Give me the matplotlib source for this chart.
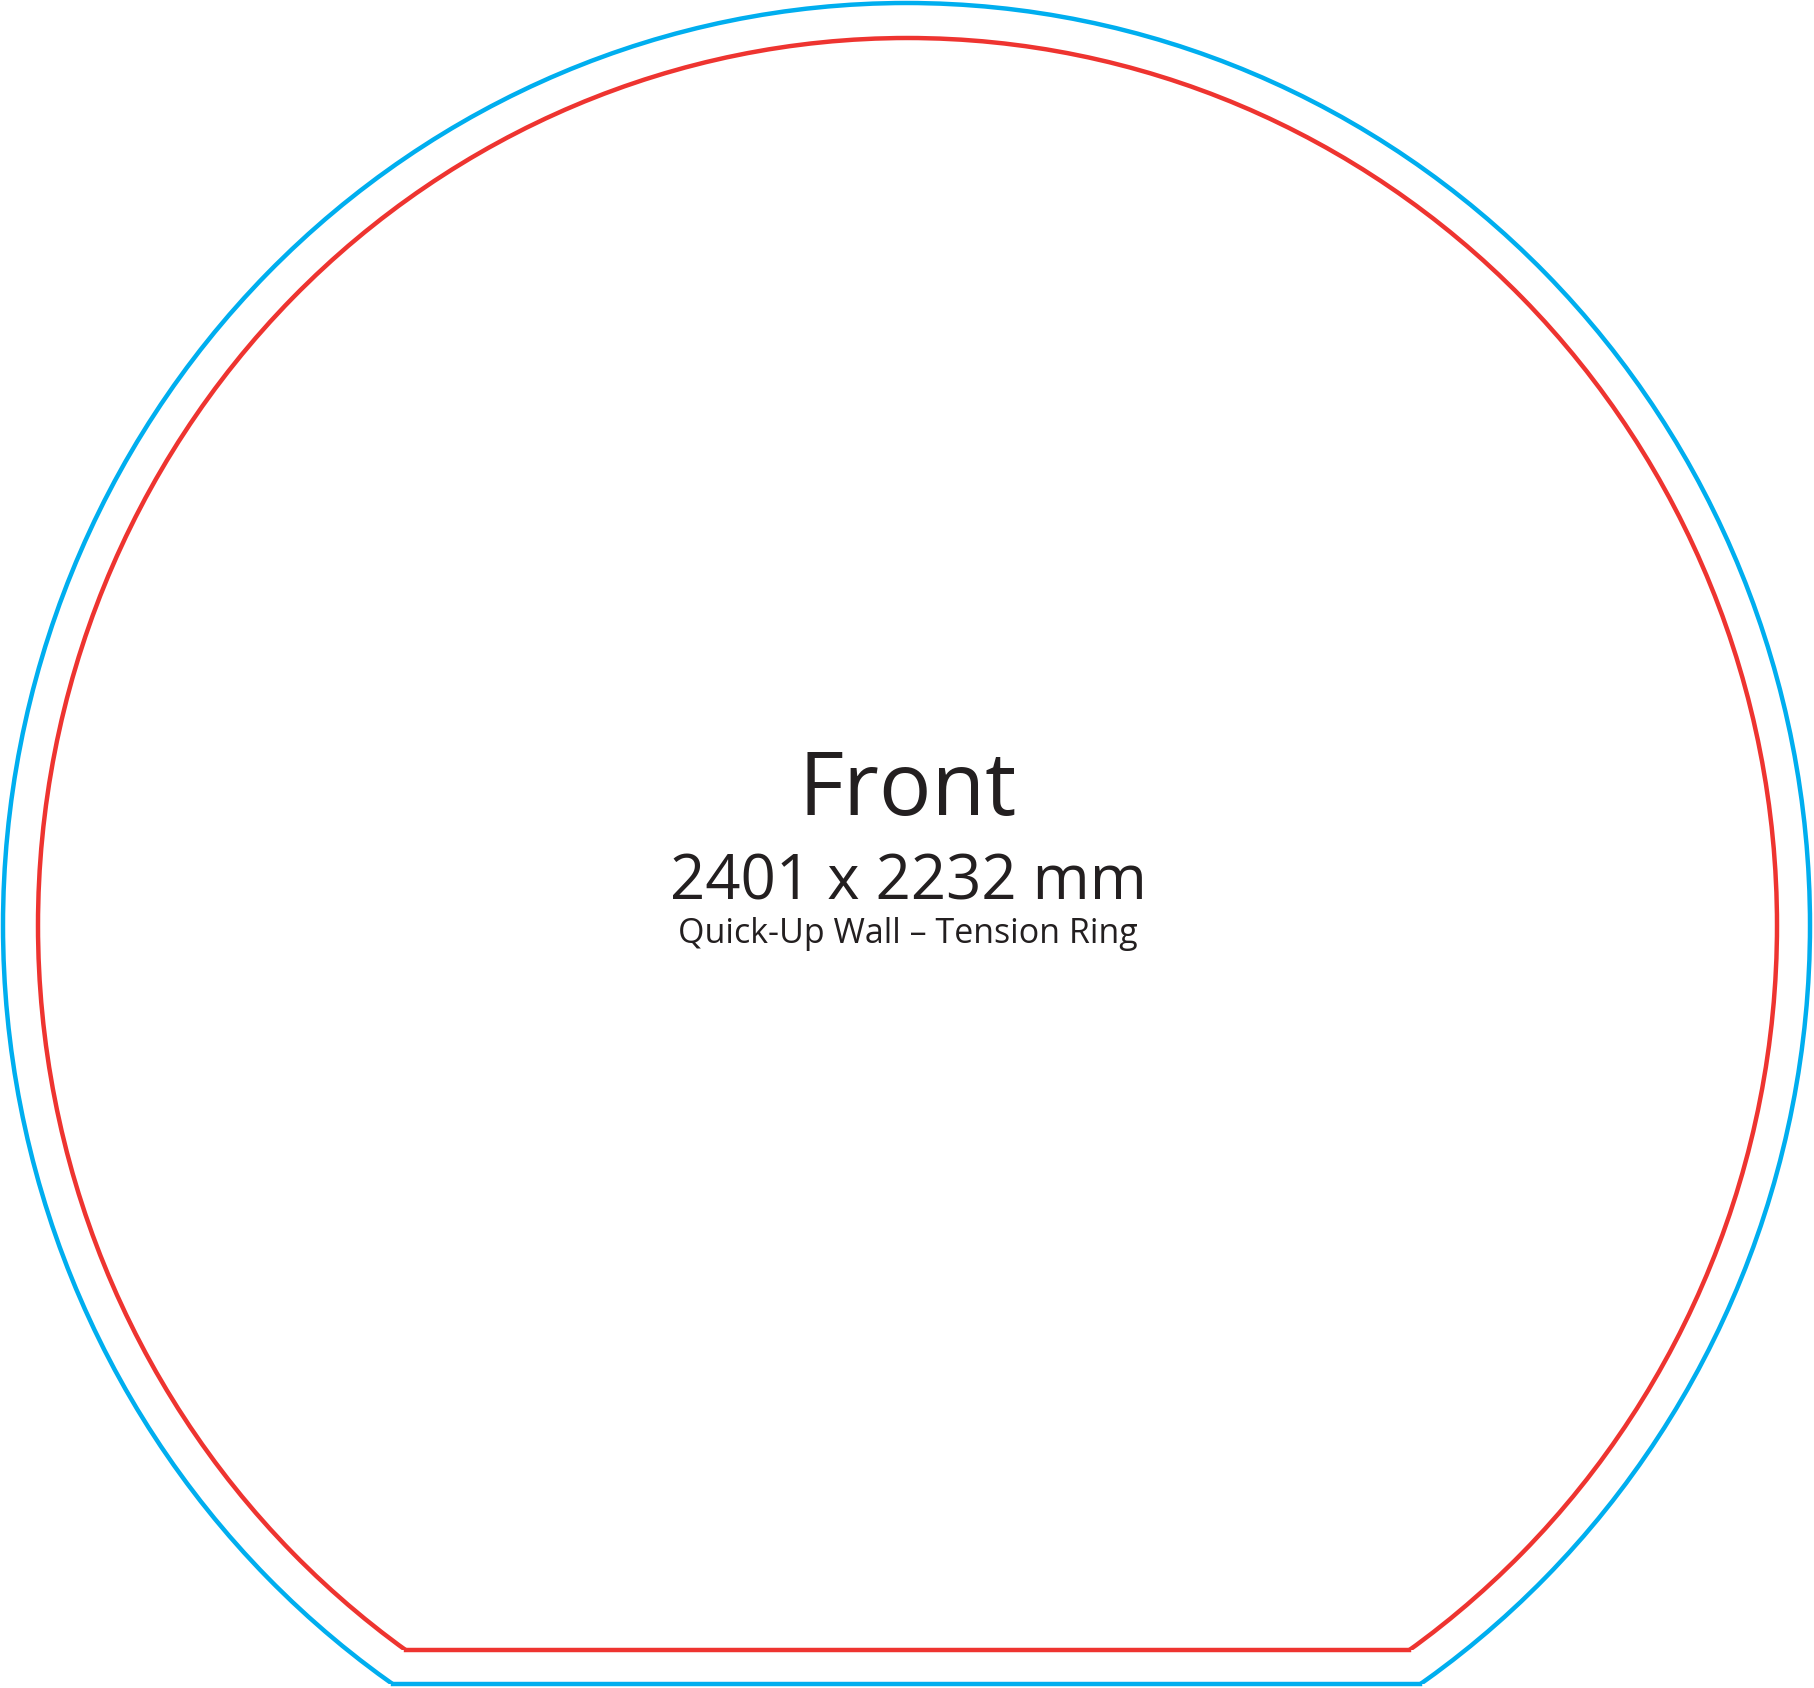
import numpy as np
import matplotlib.pyplot as plt
from matplotlib.patches import Ellipse, Rectangle

# canvas in pixels
W, H = 1815, 1688

# outline shapes: centre x, centre y, half width, half height, bottom chord y
outer = dict(cx=906.5, cy=925.4, a=903.5, b=922.4, ybot=1684, color="#00AEEF")
inner = dict(cx=907.5, cy=925.4, a=869.5, b=887.4, ybot=1650, color="#EE3430")

title = "Front"
size_label = "2401 x 2232 mm"
product = "Quick-Up Wall \u2013 Tension Ring"
text_x = 908
text_baselines = [815, 900, 943]
text_sizes = [63, 44.5, 24.5]

fig = plt.figure(figsize=(W / 100, H / 100), dpi=100)
ax = fig.add_axes([0, 0, 1, 1])
ax.set_xlim(0, W)
ax.set_ylim(H, 0)
ax.axis("off")


def draw_outline(s):
    # ellipse cut off by a straight chord at the bottom
    e = Ellipse((s["cx"], s["cy"]), 2 * s["a"], 2 * s["b"], fill=False,
                edgecolor=s["color"], lw=3.2)
    ax.add_patch(e)
    clip = Rectangle((0, 0), W, s["ybot"], transform=ax.transData,
                     visible=False)
    ax.add_patch(clip)
    e.set_clip_path(clip)
    half = s["a"] * np.sqrt(1 - ((s["ybot"] - s["cy"]) / s["b"]) ** 2)
    ax.plot([s["cx"] - half, s["cx"] + half], [s["ybot"], s["ybot"]],
            color=s["color"], lw=3.2, solid_capstyle="projecting")


draw_outline(outer)
draw_outline(inner)

for txt, yb, fs in zip([title, size_label, product], text_baselines, text_sizes):
    ax.text(text_x, yb, txt, ha="center", va="baseline", fontsize=fs,
            color="#231F20", family=["Open Sans", "DejaVu Sans"])

fig.savefig("out.png", dpi=100)
